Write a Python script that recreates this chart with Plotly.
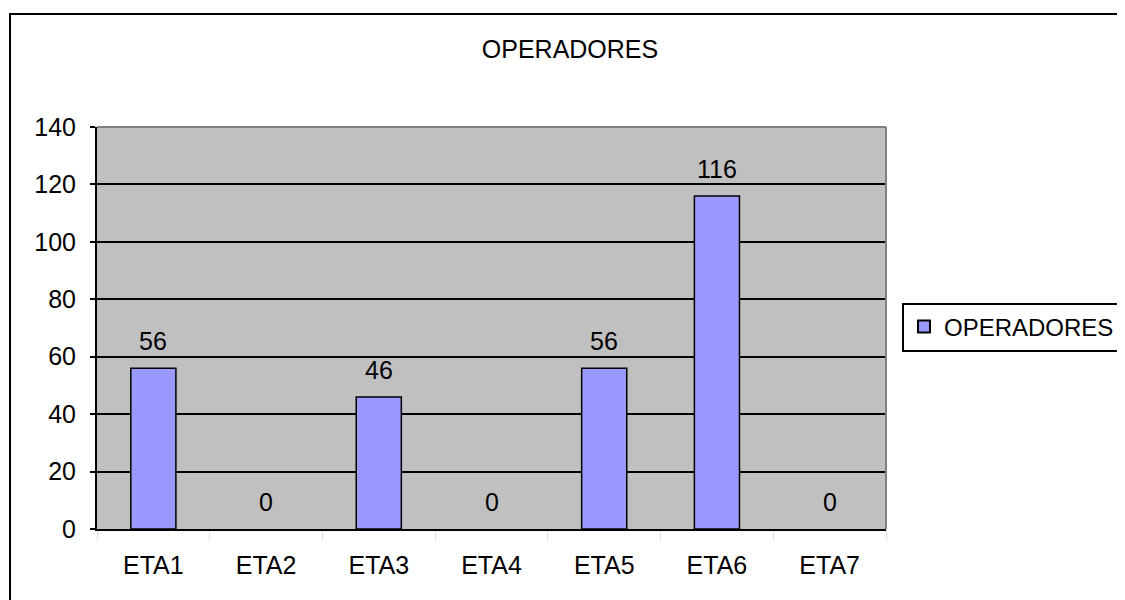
import plotly.graph_objects as go

categories = ["ETA1", "ETA2", "ETA3", "ETA4", "ETA5", "ETA6", "ETA7"]
operadores = [56, 0, 46, 0, 56, 116, 0]
series_name = "OPERADORES"
chart_title = "OPERADORES"
y_ticks = [0, 20, 40, 60, 80, 100, 120, 140]

FONT = "Liberation Sans, Arial, sans-serif"
FS = 25
OFF = 8  # page body margin offset

fig = go.Figure()
fig.add_trace(go.Bar(
    x=categories, y=operadores, name=series_name,
    marker=dict(color="#9999FF",
                line=dict(color="black", width=[1.5 if v > 0 else 0 for v in operadores])),
    width=0.4, showlegend=True,
))

for c, v in zip(categories, operadores):
    fig.add_annotation(x=c, y=v, text=str(v), showarrow=False,
                       yanchor="bottom", yshift=11,
                       font=dict(family=FONT, size=FS, color="black"))

W, H = 1125 - OFF, 600 - OFF
L, R, T, B = 97 - OFF, 886 - OFF, 127 - OFF, 529 - OFF

# outer chart border
fig.add_shape(type="rect", xref="paper", yref="paper",
              x0=(10 - OFF - L) / (R - L), x1=(1140 - L) / (R - L),
              y0=(B - 615) / (B - T), y1=(B - (14 - OFF)) / (B - T),
              line=dict(color="black", width=2), fillcolor="rgba(0,0,0,0)", layer="below")
# top and right plot edges (gray)
fig.add_shape(type="line", xref="paper", yref="paper", x0=0, x1=1, y0=1, y1=1,
              line=dict(color="#808080", width=2))
fig.add_shape(type="line", xref="paper", yref="paper", x0=1, x1=1, y0=0, y1=1,
              line=dict(color="#808080", width=2))

fig.update_layout(
    width=W, height=H,
    margin=dict(l=L, r=W - R, t=T, b=H - B, autoexpand=False),
    paper_bgcolor="white", plot_bgcolor="#C0C0C0",
    font=dict(family=FONT, size=FS, color="black"),
    title=dict(text=chart_title, x=(570 - OFF) / W, xref="container", xanchor="center",
               y=1 - (49 - OFF) / H, yref="container", yanchor="middle",
               font=dict(family=FONT, size=FS, color="black")),
    bargap=0.6,
    showlegend=True,
    legend=dict(x=(902 - OFF - L) / (R - L), xanchor="left",
                y=(B - (327 - OFF)) / (B - T), yanchor="middle",
                bgcolor="white", bordercolor="black", borderwidth=2,
                font=dict(family=FONT, size=24, color="black"),
                itemsizing="constant"),
)
fig.update_xaxes(
    type="category", showline=True, linecolor="black", linewidth=2,
    ticks="outside", tickson="boundaries", ticklen=9, tickwidth=1, tickcolor="#e0e0e0",
    ticklabelstandoff=13, showgrid=False, zeroline=False,
    tickfont=dict(family=FONT, size=FS, color="black"),
)
fig.update_yaxes(
    range=[0, 140], tickvals=y_ticks, showline=True, linecolor="black", linewidth=2,
    ticks="outside", ticklen=5, tickwidth=1.5, tickcolor="black",
    ticklabelstandoff=9,
    showgrid=True, gridcolor="black", gridwidth=1.5, zeroline=False,
    tickfont=dict(family=FONT, size=FS, color="black"),
)

fig.write_html("out.html")
